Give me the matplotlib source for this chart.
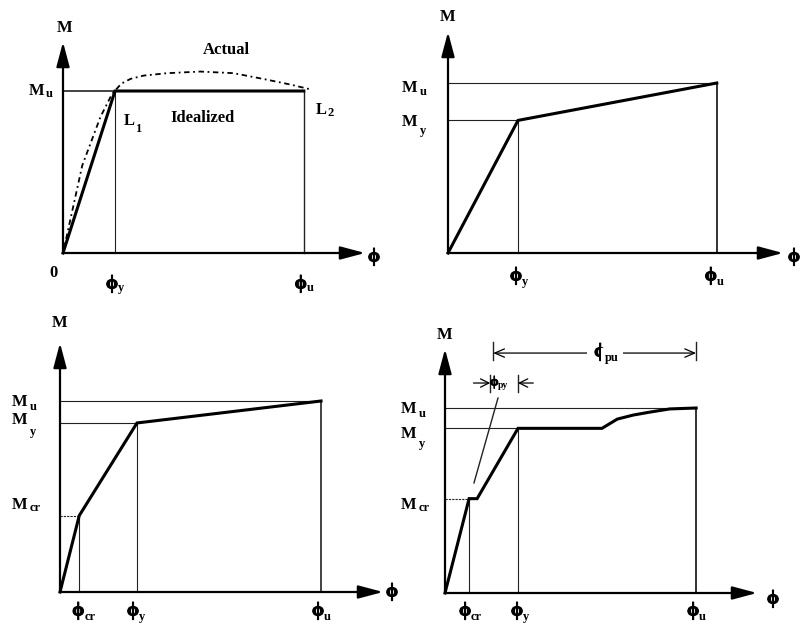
import matplotlib.pyplot as plt
import matplotlib.patheffects as pe

plt.rcParams['font.family'] = ['Liberation Serif', 'DejaVu Serif']
plt.rcParams['font.weight'] = 'bold'

W, H = 801, 635
PHI = 'ϕ'

# ---- data (curvature in units of phi_y, moment in units of M_u) ----
# panel 1: actual vs idealized elasto-plastic
p1_phi_y, p1_phi_u = 1.0, 4.63
p1_ideal_phi = [0.0, 1.0, 4.63]
p1_ideal_M = [0.0, 1.0, 1.0]
p1_actual_phi = [0.0, 0.37, 0.72, 0.94, 1.12, 1.30, 1.55, 2.0, 2.64, 3.28, 3.92, 4.37, 4.76]
p1_actual_M = [0.0, 0.54, 0.84, 0.98, 1.045, 1.075, 1.095, 1.11, 1.12, 1.11, 1.07, 1.04, 1.01]

# panel 2: bilinear
p2_phi = [0.0, 1.0, 3.84]
p2_M = [0.0, 0.78, 1.0]

# panel 3: trilinear
p3_phi = [0.0, 0.25, 1.0, 3.39]
p3_M = [0.0, 0.40, 0.885, 1.0]

# panel 4: trilinear with cracking plateau and hardening curve
p4_phi = [0.0, 0.33, 0.44, 1.0, 2.15, 2.36, 2.58, 2.81, 3.08, 3.44]
p4_M = [0.0, 0.51, 0.51, 0.89, 0.89, 0.94, 0.962, 0.978, 0.995, 1.0]
p4_phi_pu = [0.66, 3.44]
p4_phi_py = [0.62, 1.0]

fig = plt.figure(figsize=(W / 100, H / 100), dpi=100)

AX_ARROW = dict(arrowstyle='-|>,head_length=1.5,head_width=0.4', lw=1.6,
                color='black', shrinkA=0, shrinkB=0)
HALF = {'M': 8, PHI: 4, 'L': 4}
HEAVY = [pe.withStroke(linewidth=0.7, foreground='black')]


def panel(ox, oy, sx, sy, xlen, ylen):
    ax = fig.add_axes([ox / W, 1 - oy / H, xlen / W, ylen / H])
    ax.set_xlim(0, xlen / sx)
    ax.set_ylim(0, ylen / sy)
    ax.axis('off')
    xm, ym = xlen / sx, ylen / sy
    ax.annotate('', xy=(xm, 0), xytext=(0, 0), arrowprops=AX_ARROW, annotation_clip=False)
    ax.annotate('', xy=(0, ym), xytext=(0, 0), arrowprops=AX_ARROW, annotation_clip=False)
    return ax, xm, ym


def txt(ax, xy, s, dx=0, dy=0, size=12, **kw):
    if s == PHI:
        kw.setdefault('path_effects', HEAVY)
        size = size + 2
    ax.annotate(s, xy, xytext=(dx, dy), textcoords='offset pixels', ha='center',
                va='center', fontsize=size, fontweight='bold', annotation_clip=False, **kw)


def lab(ax, xy, main, sub, dx, dy, sdy=-6, gap=2, size=12, subsize=9):
    txt(ax, xy, main, dx, dy, size)
    ax.annotate(sub, xy, xytext=(dx + HALF.get(main, 5) + gap, dy + sdy),
                textcoords='offset pixels', ha='left', va='center',
                fontsize=subsize, fontweight='bold', annotation_clip=False)


def thin(ax, xs, ys, lw=0.8, **kw):
    ax.plot(xs, ys, color='#222222', lw=lw, clip_on=False, **kw)


def thick(ax, xs, ys):
    ax.plot(xs, ys, color='black', lw=2.2, clip_on=False, solid_joinstyle='miter')


# ---------------- panel 1 ----------------
ax, xm, ym = panel(63, 253, 52, 162, 302, 211)
thin(ax, [0, p1_phi_y], [1, 1], lw=1.2)
thin(ax, [p1_phi_y, p1_phi_y], [0, 1])
thin(ax, [p1_phi_u, p1_phi_u], [0, 1], lw=1.0)
thick(ax, p1_ideal_phi, p1_ideal_M)
ax.plot(p1_actual_phi, p1_actual_M, color='black', lw=1.3, ls=(0, (3, 2, 1, 2)), clip_on=False)
txt(ax, (0, ym), 'M', 2, 14)
txt(ax, (xm, 0), PHI, 9, -4)
txt(ax, (0, 0), '0', -10, -20)
lab(ax, (0, 1), 'M', 'u', -26, 0, sdy=-3, gap=1)
lab(ax, (p1_phi_y, 0), PHI, 'y', -3, -31, sdy=-4)
lab(ax, (p1_phi_u, 0), PHI, 'u', -3, -31, sdy=-4)
lab(ax, (1.27, 0.815), 'L', '1', 0, 0, sdy=-8)
lab(ax, (4.96, 0.883), 'L', '2', 0, 0, sdy=-3, gap=3)
txt(ax, (2.68, 0.833), 'Idealized')
txt(ax, (3.15, 1.253), 'Actual')

# ---------------- panel 2 ----------------
ax, xm, ym = panel(448, 253, 70, 170, 335, 221)
thin(ax, [0, p2_phi[2]], [1, 1])
thin(ax, [0, p2_phi[1]], [p2_M[1], p2_M[1]])
thin(ax, [p2_phi[1], p2_phi[1]], [0, p2_M[1]])
thin(ax, [p2_phi[2], p2_phi[2]], [0, 1], lw=1.3)
thick(ax, p2_phi, p2_M)
txt(ax, (0, ym), 'M', 0, 15)
txt(ax, (xm, 0), PHI, 11, -4)
lab(ax, (0, 1), 'M', 'u', -38, -5, sdy=-4)
lab(ax, (0, p2_M[1]), 'M', 'y', -38, -2, sdy=-9)
lab(ax, (p2_phi[1], 0), PHI, 'y', -2, -23)
lab(ax, (p2_phi[2], 0), PHI, 'u', -6, -23)

# ---------------- panel 3 ----------------
ax, xm, ym = panel(60, 592, 77, 191, 323, 249)
thin(ax, [0, p3_phi[3]], [1, 1])
thin(ax, [0, p3_phi[2]], [p3_M[2], p3_M[2]])
thin(ax, [0, p3_phi[1]], [p3_M[1], p3_M[1]], ls=(0, (2, 1)))
for i in (1, 2):
    thin(ax, [p3_phi[i], p3_phi[i]], [0, p3_M[i]])
thin(ax, [p3_phi[3], p3_phi[3]], [0, 1], lw=1.2)
thick(ax, p3_phi, p3_M)
txt(ax, (0, ym), 'M', 0, 20)
txt(ax, (xm, 0), PHI, 9, 0)
lab(ax, (0, 1), 'M', 'u', -40, -1, sdy=-5)
lab(ax, (0, p3_M[2]), 'M', 'y', -40, 3, sdy=-12)
lab(ax, (0, p3_M[1]), 'M', 'cr', -40, 11, sdy=-3)
lab(ax, (p3_phi[1], 0), PHI, 'cr', -1, -19)
lab(ax, (p3_phi[2], 0), PHI, 'y', -4, -19)
lab(ax, (p3_phi[3], 0), PHI, 'u', -3, -19)

# ---------------- panel 4 ----------------
ax, xm, ym = panel(445, 593, 73, 185, 312, 244)
phi_cr, phi_y, phi_u = p4_phi[1], p4_phi[3], p4_phi[-1]
M_cr, M_y = p4_M[1], p4_M[3]
thin(ax, [0, phi_u], [1, 1])
thin(ax, [0, phi_y], [M_y, M_y])
thin(ax, [0, phi_cr], [M_cr, M_cr], ls=(0, (2, 1)))
thin(ax, [phi_cr, phi_cr], [0, M_cr])
thin(ax, [phi_y, phi_y], [0, M_y])
thin(ax, [phi_u, phi_u], [0, 1], lw=1.3)
thick(ax, p4_phi, p4_M)
txt(ax, (0, ym), 'M', 0, 14)
txt(ax, (xm, 0), PHI, 16, -6)
lab(ax, (0, 1), 'M', 'u', -36, -1, sdy=-5)
lab(ax, (0, M_y), 'M', 'y', -36, -6, sdy=-10)
lab(ax, (0, M_cr), 'M', 'cr', -36, -6, sdy=-3)
lab(ax, (phi_cr, 0), PHI, 'cr', -4, -18)
lab(ax, (phi_y, 0), PHI, 'y', -1, -18)
lab(ax, (phi_u, 0), PHI, 'u', -3, -18)

# dimension phi_pu
y_pu = 1.297
ax.annotate('', xy=(p4_phi_pu[0], y_pu), xytext=(p4_phi_pu[1], y_pu),
            arrowprops=dict(arrowstyle='<->,head_length=0.7,head_width=0.3', lw=0.9,
                            color='black', shrinkA=0, shrinkB=0), annotation_clip=False)
for xv in p4_phi_pu:
    thin(ax, [xv, xv], [1.26, 1.357], lw=1.0)
ax.annotate(PHI, (p4_phi_pu[0], y_pu), xytext=(107, 1), textcoords='offset pixels',
            ha='center', va='center', fontsize=14, fontweight='bold', path_effects=HEAVY,
            annotation_clip=False, bbox=dict(fc='white', ec='none', pad=5))
ax.annotate('pu', (p4_phi_pu[0], y_pu), xytext=(112, -5), textcoords='offset pixels',
            ha='left', va='center', fontsize=9, fontweight='bold', annotation_clip=False,
            bbox=dict(fc='white', ec='none', pad=3))

# dimension phi_py (arrows from outside)
y_py = 1.135
dim = dict(arrowstyle='->,head_length=0.6,head_width=0.3', lw=0.9, color='black',
           shrinkA=0, shrinkB=0)
ax.annotate('', xy=(p4_phi_py[0], y_py), xytext=(p4_phi_py[0] - 0.23, y_py),
            arrowprops=dim, annotation_clip=False)
ax.annotate('', xy=(p4_phi_py[1], y_py), xytext=(p4_phi_py[1] + 0.21, y_py),
            arrowprops=dim, annotation_clip=False)
for xv in p4_phi_py:
    thin(ax, [xv, xv], [1.086, 1.178], lw=1.0)
ax.annotate(PHI, (p4_phi_py[0], y_py), xytext=(4, 1), textcoords='offset pixels',
            ha='center', va='center', fontsize=10, fontweight='bold',
            path_effects=[pe.withStroke(linewidth=0.5, foreground='black')],
            annotation_clip=False)
ax.annotate('py', (p4_phi_py[0], y_py), xytext=(8, -2), textcoords='offset pixels',
            ha='left', va='center', fontsize=7, fontweight='bold', annotation_clip=False)
thin(ax, [0.726, 0.397], [1.054, 0.595], lw=1.0)

fig.savefig('out.png', dpi=100, facecolor='white')
